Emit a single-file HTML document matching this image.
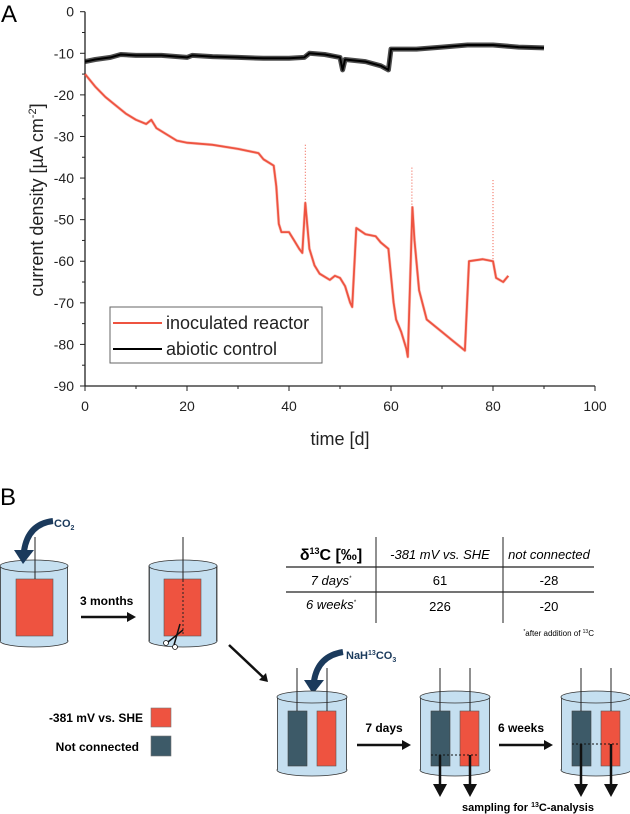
<!DOCTYPE html>
<html><head><meta charset="utf-8">
<style>
html,body{margin:0;padding:0;background:#fff;}
svg{display:block;font-family:"Liberation Sans",sans-serif;}
.b{font-weight:bold;}
</style></head>
<body>
<svg id="fig" width="630" height="814" viewBox="0 0 630 814">
<text x="1" y="22" font-size="24">A</text>
<g id="chart"></g>

<!-- Panel B -->
<text x="0" y="505" font-size="24">B</text>

<g>
<rect x="0" y="566" width="68" height="75" fill="#c5dff0"/>
<ellipse cx="34" cy="641" rx="34" ry="6" fill="#c5dff0" stroke="#333" stroke-width="0.8"/>
<rect x="0.4" y="566" width="67.2" height="75" fill="#c5dff0"/>
<line x1="0.4" y1="566" x2="0.4" y2="641" stroke="#333" stroke-width="0.8"/>
<line x1="67.6" y1="566" x2="67.6" y2="641" stroke="#333" stroke-width="0.8"/>
<ellipse cx="34" cy="566" rx="34" ry="6" fill="#c5dff0" stroke="#333" stroke-width="0.8"/>
<rect x="16" y="579" width="37" height="57" fill="#ee5340" stroke="#555" stroke-width="0.6"/>
<line x1="35" y1="537" x2="35" y2="579" stroke="#222" stroke-width="1"/>
</g>
<g>
<path d="M53,521 Q28,524 24,551" fill="none" stroke="#1b3a5c" stroke-width="6"/>
<polygon points="14,550 34,550 23,564" fill="#1b3a5c"/>
<text x="54" y="527" font-size="11" class="b" fill="#1b3a5c">CO<tspan font-size="7" dy="3">2</tspan></text>
</g>
<text x="80" y="605" font-size="12" class="b">3 months</text>
<g>
<line x1="81" y1="617" x2="130" y2="617" stroke="#111" stroke-width="2.5"/>
<polygon points="127,612 136,617 127,622" fill="#111"/>
</g>

<g>
<rect x="149" y="566" width="68" height="75" fill="#c5dff0" stroke="#333" stroke-width="0.8"/>
<ellipse cx="183" cy="641" rx="34" ry="6" fill="#c5dff0" stroke="#333" stroke-width="0.8"/>
<rect x="149.4" y="566" width="67.2" height="75" fill="#c5dff0"/>
<line x1="149.4" y1="566" x2="149.4" y2="641" stroke="#333" stroke-width="0.8"/>
<line x1="216.6" y1="566" x2="216.6" y2="641" stroke="#333" stroke-width="0.8"/>
<ellipse cx="183" cy="566" rx="34" ry="6" fill="#c5dff0" stroke="#333" stroke-width="0.8"/>
<rect x="164" y="579" width="37" height="57" fill="#ee5340" stroke="#555" stroke-width="0.6"/>
<line x1="183" y1="537" x2="183" y2="580" stroke="#222" stroke-width="1"/>
<line x1="183" y1="580" x2="183" y2="636" stroke="#222" stroke-width="1" stroke-dasharray="2,2"/>
</g>
<g>
<circle cx="166" cy="643" r="2.5" fill="#fff" stroke="#111" stroke-width="0.8"/>
<circle cx="175" cy="647" r="2.5" fill="#fff" stroke="#111" stroke-width="0.8"/>
<line x1="168" y1="642" x2="183" y2="630" stroke="#111" stroke-width="1.5"/>
<line x1="174" y1="645" x2="180" y2="624" stroke="#111" stroke-width="1.5"/>
</g>
<g>
<line x1="229" y1="645" x2="264" y2="678" stroke="#111" stroke-width="2.5"/>
<polygon points="259,680 268,682 266,673" fill="#111"/>
</g>

<g>
<line x1="376" y1="537" x2="376" y2="623" stroke="#222" stroke-width="1"/>
<line x1="503" y1="537" x2="503" y2="623" stroke="#222" stroke-width="1"/>
<line x1="286" y1="567" x2="594" y2="567" stroke="#222" stroke-width="1.2"/>
<line x1="286" y1="592" x2="594" y2="592" stroke="#222" stroke-width="1.2"/>
<text x="331" y="560" font-size="16" class="b" text-anchor="middle">δ<tspan font-size="9" dy="-6">13</tspan><tspan dy="6">C [‰]</tspan></text>
<text x="440" y="559" font-size="13" font-style="italic" text-anchor="middle">-381 mV vs. SHE</text>
<text x="549" y="559" font-size="13" font-style="italic" text-anchor="middle">not connected</text>
<text x="331" y="585" font-size="13" font-style="italic" text-anchor="middle">7 days<tspan font-size="6" dy="-5">*</tspan></text>
<text x="440" y="585" font-size="13" text-anchor="middle">61</text>
<text x="549" y="585" font-size="13" text-anchor="middle">-28</text>
<text x="331" y="609" font-size="13" font-style="italic" text-anchor="middle">6 weeks<tspan font-size="6" dy="-5">*</tspan></text>
<text x="440" y="611" font-size="13" text-anchor="middle">226</text>
<text x="549" y="611" font-size="13" text-anchor="middle">-20</text>
<text x="594" y="636" font-size="8" text-anchor="end"><tspan font-size="5" dy="-3">*</tspan><tspan dy="3">after addition of </tspan><tspan font-size="5" dy="-3">13</tspan><tspan dy="3">C</tspan></text>
</g>

<g>
<text x="143" y="722" font-size="12" class="b" text-anchor="end">-381 mV vs. SHE</text>
<rect x="151" y="708" width="20" height="19" fill="#ee5340" stroke="#777" stroke-width="0.6"/>
<text x="139" y="751" font-size="12" class="b" text-anchor="end">Not connected</text>
<rect x="151" y="736" width="20" height="20" fill="#3d5a68" stroke="#777" stroke-width="0.6"/>
</g>

<g>
<path d="M343,652 Q318,656 314,681" fill="none" stroke="#1b3a5c" stroke-width="6"/>
<polygon points="304,680 324,680 313,694" fill="#1b3a5c"/>
<text x="346" y="659" font-size="11" class="b" fill="#1b3a5c">NaH<tspan font-size="7" dy="-4">13</tspan><tspan dy="4">CO</tspan><tspan font-size="7" dy="3">3</tspan></text>
</g>

<g id="reactors"></g>

<text x="384" y="732" font-size="12" class="b" text-anchor="middle">7 days</text>
<g>
<line x1="357" y1="745" x2="405" y2="745" stroke="#111" stroke-width="2.5"/>
<polygon points="402,740 411,745 402,750" fill="#111"/>
</g>
<text x="521" y="732" font-size="12" class="b" text-anchor="middle">6 weeks</text>
<g>
<line x1="499" y1="745" x2="547" y2="745" stroke="#111" stroke-width="2.5"/>
<polygon points="544,740 553,745 544,750" fill="#111"/>
</g>
<text x="528" y="811" font-size="11" class="b" text-anchor="middle">sampling for <tspan font-size="7" dy="-4">13</tspan><tspan dy="4">C-analysis</tspan></text>
</svg>

<script>
// ---------- chart data ----------
const inocTimes = [0,2,4,6,8,10,12,13,14,16,18,20,25,30,34,35,37,37.5,38,38.5,40,41,42,42.6,43.2,44,45,46,48,49,50,51,52,52.4,53.2,55,57,58,59.5,60.5,61,62,63,63.3,64.2,64.6,65.5,67,70,72,74.5,75.3,78,80,80.6,82,83];
const inocValues = [-15,-18,-20.5,-22.5,-24.5,-26,-27,-26,-28,-29.5,-31,-31.5,-32,-33,-34,-35.5,-37,-42,-51,-53,-53,-55,-57,-58,-46,-57,-61,-63,-64.5,-63.5,-64,-66,-70,-71,-52,-53.5,-54,-55.5,-57,-70,-74,-77,-81,-83,-47,-55,-67,-74,-77,-79,-81.5,-60,-59.5,-60,-64,-65,-63.5];
const inocSpikeTimes = [43.2,64.1,80];
const inocSpikeValues = [-32,-37.5,-40.5];
const abioTimes = [0,2,5,7,10,15,20,21,25,30,35,40,43,44,47,50,50.5,51,55,58,59.5,60,65,70,75,80,85,90];
const abioValues = [-12,-11.5,-11,-10.3,-10.5,-10.5,-11,-10.5,-10.8,-11,-11.2,-11.2,-11,-10,-10.3,-11,-14,-11.5,-12,-13,-14,-9,-9,-8.5,-8,-8,-8.5,-8.7];
const xTicks = [0,20,40,60,80,100];
const yTicks = [0,-10,-20,-30,-40,-50,-60,-70,-80,-90];

const NS = "http://www.w3.org/2000/svg";
const X0=85, X1=595, Y0=11.7, Y1=386;
const xs = t => X0 + (t-0)/(100-0)*(X1-X0);
const ys = v => Y0 + (0-v)/(0-(-90))*(Y1-Y0);
const chart = document.getElementById('chart');
function mk(tag, attrs, parent){const e=document.createElementNS(NS,tag);for(const k in attrs)e.setAttribute(k,attrs[k]);(parent||chart).appendChild(e);return e;}

// axes
let ax = mk('line',{x1:X0,y1:Y0,x2:X0,y2:Y1,stroke:'#222','stroke-width':1.3});


ax = mk('line',{x1:X0,y1:Y1,x2:X1,y2:Y1,stroke:'#222','stroke-width':1.3});


for(let v=0; v>=-90; v-=5){
  const major = v%10===0;
  const t = mk('line',{x1:X0-(major?5:3),y1:ys(v),x2:X0,y2:ys(v),stroke:'#222','stroke-width':1});
  
  
}
yTicks.forEach(v=>{
  const t = mk('text',{x:74,y:ys(v)+5,'font-size':14,'text-anchor':'end',fill:'#222'});
  t.textContent = v;
  
  
});
for(let v=0; v<=100; v+=10){
  const major = v%20===0;
  const t = mk('line',{x1:xs(v),y1:Y1,x2:xs(v),y2:Y1+(major?5:3),stroke:'#222','stroke-width':1});
  
  
}
xTicks.forEach(v=>{
  const t = mk('text',{x:xs(v),y:411,'font-size':14,'text-anchor':'middle',fill:'#222'});
  t.textContent = v;
  
  
});
let lab = mk('text',{x:340,y:445,'font-size':18,'text-anchor':'middle',fill:'#222'});
lab.textContent='time [d]';


lab = mk('text',{x:0,y:0,'font-size':18,'text-anchor':'middle',fill:'#222',transform:'translate(43,200) rotate(-90)'});
lab.innerHTML='current density [µA cm<tspan font-size="11" dy="-7">-2</tspan><tspan dy="7">]</tspan>';



// series
function pts(T,V){return T.map((t,i)=>xs(t).toFixed(1)+','+ys(V[i]).toFixed(1)).join(' ');}
let s = mk('polyline',{points:pts(abioTimes,abioValues),fill:'none',stroke:'#111','stroke-width':5,'stroke-opacity':0.75,'stroke-linejoin':'round'});


s = mk('polyline',{points:pts(abioTimes,abioValues),fill:'none',stroke:'#000','stroke-width':2,'stroke-linejoin':'round'});


s = mk('polyline',{points:pts(inocTimes,inocValues),fill:'none',stroke:'#ee5340','stroke-width':3,'stroke-opacity':0.35,'stroke-linejoin':'round'});


s = mk('polyline',{points:pts(inocTimes,inocValues),fill:'none',stroke:'#ee5340','stroke-width':1.8,'stroke-linejoin':'round'});


inocSpikeTimes.forEach((t,i)=>{
  const k = inocTimes.reduce((b,tt,j)=>Math.abs(tt-t)<Math.abs(inocTimes[b]-t)?j:b,0);
  const e = mk('line',{x1:xs(t),y1:ys(inocSpikeValues[i]),x2:xs(t),y2:ys(inocValues[k]),stroke:'#ee5340','stroke-width':1,'stroke-dasharray':'1,2'});
  
  
});

// legend
const lg = mk('g',{});


mk('rect',{x:110,y:307,width:212,height:56,fill:'#fff',stroke:'#666','stroke-width':1},lg);
let le = mk('line',{x1:113,y1:323,x2:162,y2:323,stroke:'#ee5340','stroke-width':2},lg);


le = mk('text',{x:166,y:329,'font-size':18,fill:'#222'},lg);
le.textContent='inoculated reactor';


le = mk('line',{x1:113,y1:349,x2:162,y2:349,stroke:'#000','stroke-width':2},lg);


le = mk('text',{x:166,y:355,'font-size':18,fill:'#222'},lg);
le.textContent='abiotic control';



// ---------- reactors (panel B) ----------
const R = document.getElementById('reactors');
function reactor(x, dotY, sample){
  const g = mk('g',{},R);
  
  
  mk('rect',{x:x,y:697,width:70,height:73,fill:'#c5dff0'},g);
  mk('ellipse',{cx:x+35,cy:770,rx:35,ry:6,fill:'#c5dff0',stroke:'#333','stroke-width':0.8},g);
  mk('rect',{x:x+0.4,y:697,width:69.2,height:73,fill:'#c5dff0'},g);
  mk('line',{x1:x+0.4,y1:697,x2:x+0.4,y2:770,stroke:'#333','stroke-width':0.8},g);
  mk('line',{x1:x+69.6,y1:697,x2:x+69.6,y2:770,stroke:'#333','stroke-width':0.8},g);
  mk('ellipse',{cx:x+35,cy:697,rx:35,ry:6,fill:'#c5dff0',stroke:'#333','stroke-width':0.8},g);
  mk('rect',{x:x+11,y:711,width:19,height:55,fill:'#3d5a68',stroke:'#444','stroke-width':0.6},g);
  mk('rect',{x:x+40,y:711,width:19,height:55,fill:'#ee5340',stroke:'#555','stroke-width':0.6},g);
  mk('line',{x1:x+20,y1:668,x2:x+20,y2:711,stroke:'#222','stroke-width':1},g);
  mk('line',{x1:x+50,y1:668,x2:x+50,y2:711,stroke:'#222','stroke-width':1},g);
  if(sample){
    mk('line',{x1:x+11,y1:dotY,x2:x+59,y2:dotY,stroke:'#111','stroke-width':1,'stroke-dasharray':'2,2'},g);
    [x+20,x+50].forEach(cx=>{
      const a = mk('g',{},g);
      
      
      mk('line',{x1:cx,y1:dotY,x2:cx,y2:785,stroke:'#111','stroke-width':2.5},a);
      mk('polygon',{points:(cx-7)+',784 '+(cx+7)+',784 '+cx+',797',fill:'#111'},a);
    });
  }
}
reactor(277,0,false);
reactor(420,755,true);
reactor(561,744,true);
</script>
</body></html>
